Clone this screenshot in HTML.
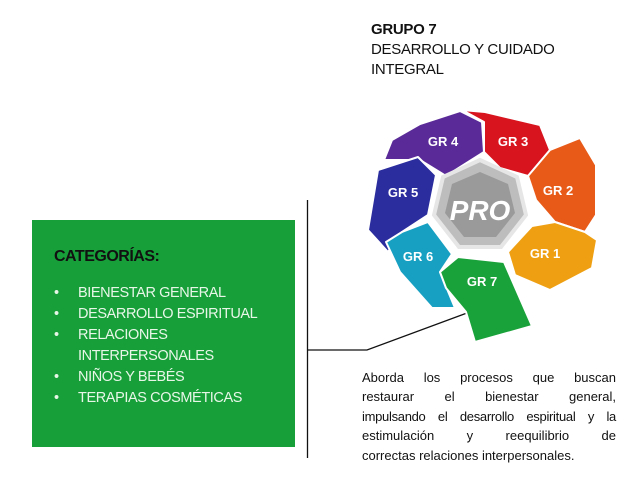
<!DOCTYPE html>
<html><head><meta charset="utf-8"><style>
body{margin:0;width:640px;height:480px;background:#fff;position:relative;overflow:hidden;font-family:"Liberation Sans",sans-serif}
.t{position:absolute}
#box{position:absolute;left:32px;top:220px;width:263px;height:227px;background:#17a03a}
#box h3{position:absolute;left:22px;top:28px;margin:0;font-size:16px;font-weight:bold;color:#111;letter-spacing:-0.5px}
#box ul{position:absolute;left:22px;top:63px;margin:0;padding:0;list-style:none;color:#e8f6e8;font-size:14.5px;line-height:21px;letter-spacing:-0.4px}
#box li{padding-left:24px;position:relative}
#box li:before{content:"•";position:absolute;left:0}
#desc{position:absolute;left:362px;top:368px;width:254px;font-size:13px;line-height:19.4px;color:#111}
#desc div{text-align:justify;text-align-last:justify;white-space:nowrap}
#desc div.l{text-align-last:left}
</style></head><body>
<div class="t" style="left:371px;top:20px;font-size:15px;line-height:20px;color:#111;letter-spacing:-0.3px"><b>GRUPO 7</b><br>DESARROLLO Y CUIDADO<br>INTEGRAL</div>
<div id="box"><h3>CATEGORÍAS:</h3><ul>
<li>BIENESTAR GENERAL</li><li>DESARROLLO ESPIRITUAL</li><li>RELACIONES<br>INTERPERSONALES</li><li>NIÑOS Y BEBÉS</li><li>TERAPIAS COSMÉTICAS</li></ul></div>
<div id="desc"><div>Aborda los procesos que buscan</div><div>restaurar el bienestar general,</div><div style="letter-spacing:-0.3px">impulsando el desarrollo espiritual y la</div><div>estimulación y reequilibrio de</div><div class="l">correctas relaciones interpersonales.</div></div>
<svg width="640" height="480" style="position:absolute;left:0;top:0">
<line x1="307.5" y1="200" x2="307.5" y2="458" stroke="#111" stroke-width="1.3"/>
<polyline points="307,350 367,350 467,313" fill="none" stroke="#111" stroke-width="1.3"/>
<g stroke="#fff" stroke-width="2" stroke-linejoin="round">
<polygon points="384,160 392,140 420,124 460,111 482,122 484,152 446,176 420,160" fill="#5a2b98"/>
<polygon points="462,110 485,112 540,125 550,150 528,176 500,168 484,152 484,122" fill="#d8141e"/>
<polygon points="528,176 550,150 580,138 596,165 596,215 585,232 555,222 536,200" fill="#e85a18"/>
<polygon points="585,232 597,240 592,268 550,290 515,275 508,252 532,226 555,222" fill="#eea012"/>
<polygon points="378,170 418,157 436,175 428,215 402,232 388,252 368,230" fill="#2b2d9e"/>
<polygon points="386,242 402,232 428,222 452,254 440,272 455,308 432,308 400,272" fill="#17a0c2"/>
<polygon points="440,272 458,257 504,262 532,326 475,342 466,312 446,288" fill="#1aa23a"/>
</g>
<polygon points="480,160 517,177 526,215 501,247 459,247 434,215 443,177" fill="#bdbdbd" stroke="#e6e6e6" stroke-width="4"/>
<polygon points="480,172 508,184 515,213 496,237 464,237 445,213 452,184" fill="#9a9a9a"/>
<text x="480" y="220" text-anchor="middle" font-family="Liberation Sans" font-weight="bold" font-style="italic" font-size="28" fill="#fff">PRO</text>
<g font-family="Liberation Sans" font-weight="bold" font-size="13" fill="#fff" text-anchor="middle">
<text x="443" y="146">GR 4</text><text x="513" y="146">GR 3</text><text x="558" y="195">GR 2</text>
<text x="545" y="258">GR 1</text><text x="482" y="286">GR 7</text><text x="418" y="261">GR 6</text><text x="403" y="197">GR 5</text>
</g>
</svg>
</body></html>
